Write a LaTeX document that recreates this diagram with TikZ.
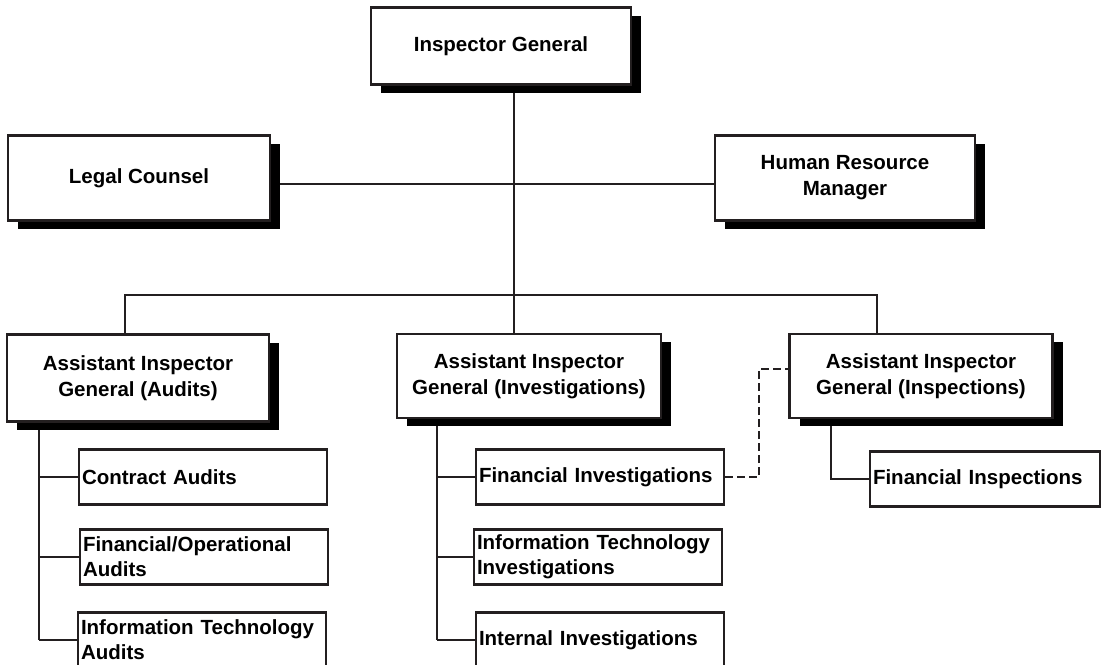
\documentclass[tikz,border=0pt]{standalone}
\usepackage{fontspec}
\newfontfamily\oigFont{Liberation Sans}
\usetikzlibrary{shadows,backgrounds}
\definecolor{oigNegro}{HTML}{231F20}
\tikzset{
  cargo/.style={rectangle, draw=oigNegro, line width=2.3pt, fill=white,
    align=center, inner sep=0pt, font=\oigFont\bfseries\fontsize{20.5}{26}\selectfont,
    drop shadow={shadow xshift=10pt, shadow yshift=-8pt, fill=black, opacity=1}},
  unidad/.style={rectangle, draw=oigNegro, line width=2.3pt, fill=white,
    minimum height=55pt, text width=242pt, inner xsep=3pt, inner ysep=0pt,
    align=left, font=\oigFont\bfseries\fontsize{20.5}{25}\selectfont},
  linea/.style={-, line width=2.6pt, oigNegro},
  lineaPunteada/.style={linea, dash pattern=on 8pt off 4pt},
}

\begin{document}
\begin{tikzpicture}[x=1pt, y=-1pt]
    \useasboundingbox (0,0) rectangle (1107,664);
    \clip (0,0) rectangle (1107,664);
    % cargos
    \node[cargo, minimum width=260pt, minimum height=77pt] (ig) at (501,46) {Inspector General};
    \node[cargo, minimum width=262pt, minimum height=85pt] (lc) at (139,178) {Legal Counsel};
    \node[cargo, minimum width=260pt, minimum height=85pt] (hrm) at (845,178) {Human Resource\\Manager};
    \node[cargo, minimum width=262pt, minimum height=87pt] (aigAud) at (138,378) {Assistant Inspector\\General (Audits)};
    \node[cargo, minimum width=264pt, minimum height=84pt] (aigInv) at (529,376) {Assistant Inspector\\General (Investigations)};
    \node[cargo, minimum width=263pt, minimum height=84pt] (aigIns) at (921,376) {Assistant Inspector\\General (Inspections)};
    % unidades
    \node[unidad] (ca)  at (203,477) {Contract Audits};
    \node[unidad] (foa) at (204,557) {Financial/Operational\\Audits};
    \node[unidad] (ita) at (202,640) {Information Technology\\Audits};
    \node[unidad] (fi)  at (600,477) {Financial Investigations};
    \node[unidad] (iti) at (598,557) {Information Technology\\Investigations};
    \node[unidad] (ii)  at (600,640) {Internal Investigations};
    \node[unidad, text width=224pt] (fins) at (985,479) {Financial Inspections};
    % lineas
    \coordinate (tronco) at (514,295);
    \coordinate (busAud) at (125,295);
    \coordinate (busIns) at (877,295);
    \coordinate (ejeAud) at (39,0);
    \coordinate (ejeInv) at (437,0);
    \coordinate (ejeIns) at (831,0);
    \begin{scope}[on background layer]
      \draw[linea] (tronco |- ig.south) -- (tronco |- aigInv.north);
      \draw[linea] ([yshift=-6pt]lc.east) -- ([yshift=-6pt]hrm.west);
      \draw[linea] (busAud |- aigAud.north) -- (busAud) -- (busIns) -- (busIns |- aigIns.north);
      \draw[linea] (ejeAud |- aigAud.south) -- (ejeAud |- ita.west);
      \foreach \u in {ca,foa,ita}{\draw[linea] (ejeAud |- \u.west) -- (\u.west);}
      \draw[linea] (ejeInv |- aigInv.south) -- (ejeInv |- ii.west);
      \foreach \u in {fi,iti,ii}{\draw[linea] (ejeInv |- \u.west) -- (\u.west);}
      \draw[linea] (ejeIns |- aigIns.south) |- (fins.west);
      \draw[lineaPunteada] (fi.east) -- ++(34,0) |- ([yshift=7pt]aigIns.west);
    \end{scope}
  \end{tikzpicture}
\end{document}
